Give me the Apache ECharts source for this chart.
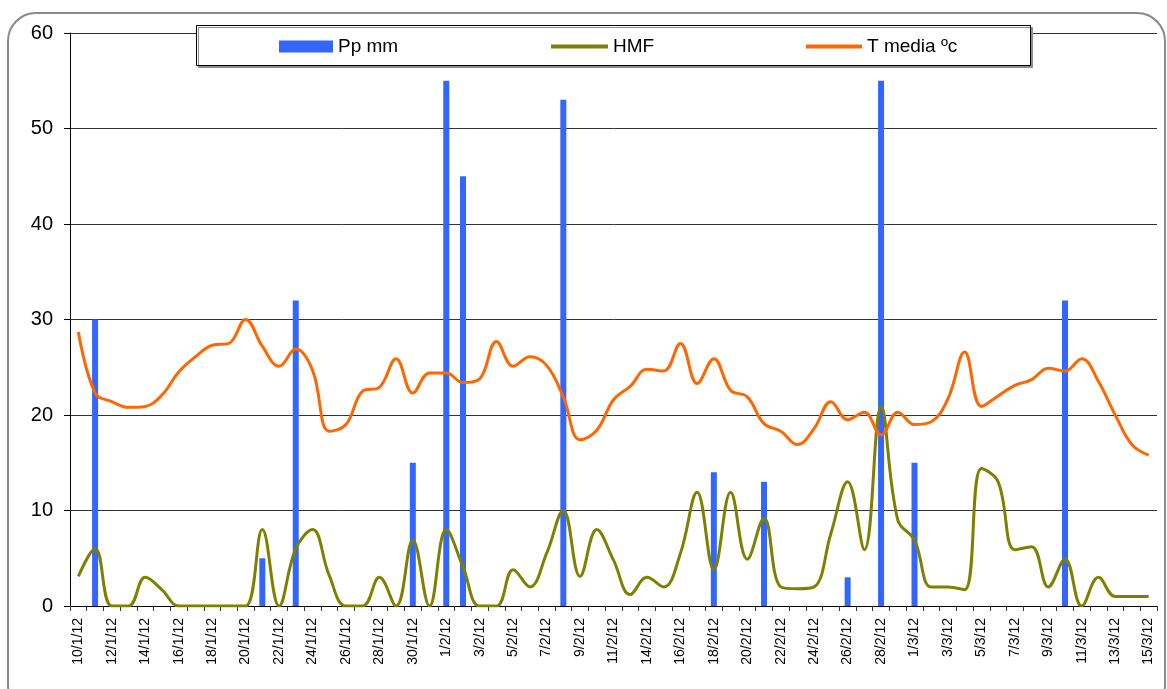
<!DOCTYPE html>
<html>
<head>
<meta charset="utf-8">
<script src="https://cdn.jsdelivr.net/npm/echarts@6/dist/echarts.min.js"></script>
<style>
html,body{margin:0;padding:0;background:#fff;}
#chart{width:1167px;height:689px;}
</style>
</head>
<body>
<div id="chart"></div>
<script>
var categories = ['10/1/12','11/1/12','12/1/12','13/1/12','14/1/12','15/1/12','16/1/12','17/1/12','18/1/12','19/1/12',
  '20/1/12','21/1/12','22/1/12','23/1/12','24/1/12','25/1/12','26/1/12','27/1/12','28/1/12','29/1/12',
  '30/1/12','31/1/12','1/2/12','2/2/12','3/2/12','4/2/12','5/2/12','6/2/12','7/2/12','8/2/12',
  '9/2/12','10/2/12','11/2/12','13/2/12','14/2/12','15/2/12','16/2/12','17/2/12','18/2/12','19/2/12',
  '20/2/12','21/2/12','22/2/12','23/2/12','24/2/12','25/2/12','26/2/12','27/2/12','28/2/12','29/2/12',
  '1/3/12','2/3/12','3/3/12','4/3/12','5/3/12','6/3/12','7/3/12','8/3/12','9/3/12','10/3/12',
  '11/3/12','12/3/12','13/3/12','14/3/12','15/3/12'];

var ppMm = [0,30,0,0,0,0,0,0,0,0,
  0,5,0,32,0,0,0,0,0,0,
  15,0,55,45,0,0,0,0,0,53,
  0,0,0,0,0,0,0,0,14,0,
  0,13,0,0,0,0,3,0,55,0,
  15,0,0,0,0,0,0,0,0,32,
  0,0,0,0,0];

var hmf = [3.1,6,0,0,3,1.7,0,0,0,0,
  0,8,0,6,8,3.2,0,0,3,0,
  6.9,0,8,4.1,0,0,3.8,2,5.5,10,
  3.1,8,4.8,1.2,3,2,5.5,11.9,3.8,11.9,
  4.9,9.2,2,1.8,2,7.6,13,5.9,20.9,9,
  6.9,2,2,1.7,14.4,13,5.9,6.2,2,4.9,
  0,3,1,1,1];

var tMedia = [28.7,22.3,21.4,20.8,20.9,22.1,24.5,26.1,27.3,27.5,
  30.0,27.2,25.1,26.9,24.7,18.3,19.0,22.5,22.9,25.9,
  22.3,24.4,24.4,23.4,23.8,27.7,25.1,26.1,25.2,21.9,
  17.4,18.4,21.6,23.0,24.8,24.6,27.5,23.3,25.9,22.6,
  21.9,19.1,18.3,16.9,18.6,21.4,19.5,20.3,17.9,20.3,
  19.0,19.3,21.7,26.6,20.9,22.0,23.1,23.7,24.9,24.6,
  25.9,23.5,20.0,16.9,15.8];

var yTicks = {min:0, max:60, interval:10};
var seriesNames = ['Pp mm','HMF','T media ºc'];

var FONT = 'Liberation Sans, Arial, sans-serif';
var chart = echarts.init(document.getElementById('chart'));
var legendText = {fontSize:19, color:'#000', fontFamily:FONT};
chart.setOption({
  animation:false,
  backgroundColor:'#fff',
  graphic:[
    {type:'rect', z:-1, shape:{x:8, y:13, width:1157, height:700, r:28},
     style:{fill:'#fff', stroke:'#8a8a8a', lineWidth:2}},
    {type:'rect', z:3, shape:{x:196.5, y:25.5, width:834, height:40},
     style:{fill:'#fff', stroke:'#000', lineWidth:1, shadowColor:'#8c8c8c', shadowOffsetX:2, shadowOffsetY:2, shadowBlur:0}}
  ],
  legend:[
    {data:[{name:seriesNames[0], icon:'rect'}], left:274, top:32, itemWidth:54, itemHeight:12, itemGap:5, textStyle:legendText, z:5, selectedMode:false},
    {data:[{name:seriesNames[1], icon:'rect'}], left:546, top:32, itemWidth:57, itemHeight:4, itemGap:4, textStyle:legendText, z:5, selectedMode:false},
    {data:[{name:seriesNames[2], icon:'rect'}], left:801, top:32, itemWidth:56, itemHeight:4, itemGap:3, textStyle:legendText, z:5, selectedMode:false}
  ],
  grid:{left:70, right:10, top:33, bottom:83},
  xAxis:{
    type:'category', data:categories, boundaryGap:true,
    axisLine:{show:true, lineStyle:{color:'#000', width:1}},
    axisTick:{show:true, interval:0, length:5, lineStyle:{color:'#333'}},
    axisLabel:{interval:1, rotate:90, fontSize:14, color:'#000', fontFamily:FONT, margin:12},
    splitLine:{show:false}
  },
  yAxis:{
    type:'value', min:yTicks.min, max:yTicks.max, interval:yTicks.interval,
    axisLine:{show:true, lineStyle:{color:'#000', width:1}},
    axisTick:{show:true, length:6, lineStyle:{color:'#000'}},
    axisLabel:{fontSize:20, color:'#000', fontFamily:FONT, margin:17},
    splitLine:{show:true, lineStyle:{color:'#333', width:1}}
  },
  series:[
    {name:seriesNames[0], type:'bar', data:ppMm, barWidth:6, itemStyle:{color:'#3366ff'}, z:2},
    {name:seriesNames[1], type:'line', data:hmf, smooth:0.4, symbol:'none',
     lineStyle:{color:'#808000', width:3}, itemStyle:{color:'#808000'}, z:3},
    {name:seriesNames[2], type:'line', data:tMedia, smooth:0.4, symbol:'none',
     lineStyle:{color:'#ff6600', width:3}, itemStyle:{color:'#ff6600'}, z:3}
  ]
});
</script>
</body>
</html>
